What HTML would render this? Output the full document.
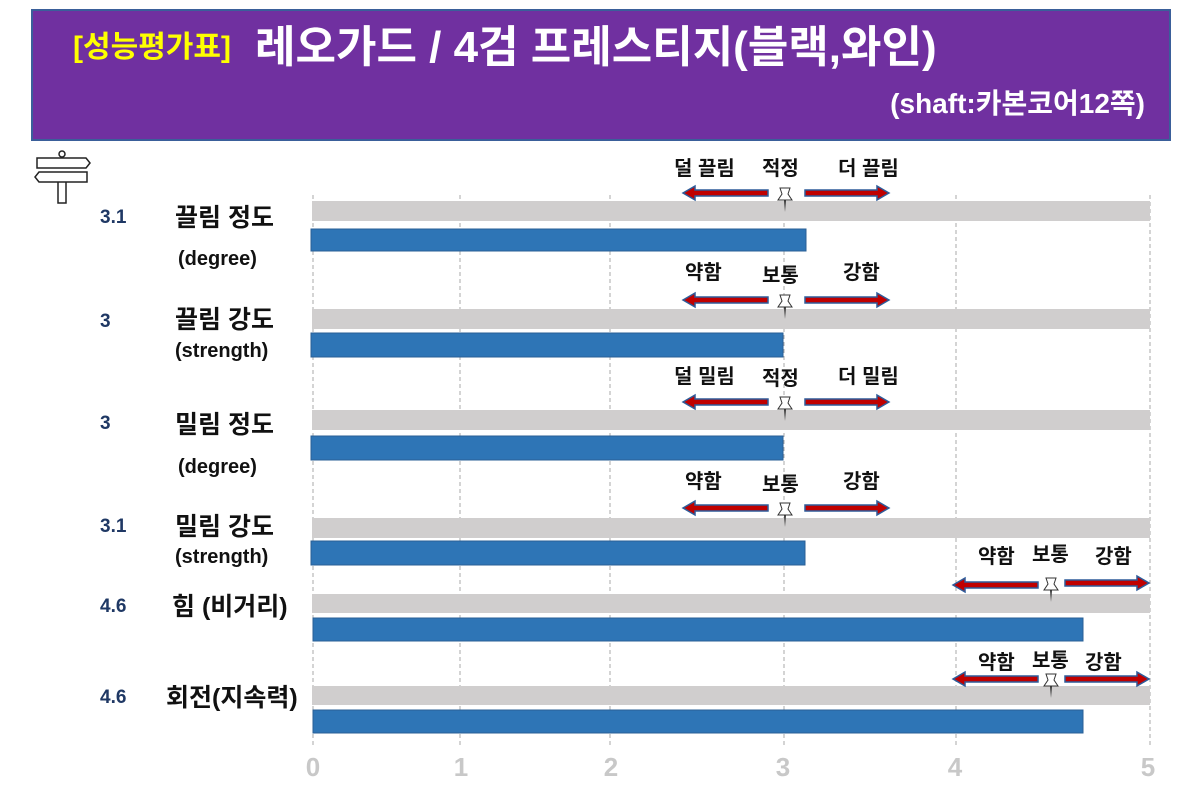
<!DOCTYPE html>
<html><head><meta charset="utf-8"><style>
body{margin:0;background:#fff;}
svg{display:block;font-family:"Liberation Sans","Noto Sans CJK KR",sans-serif;}
</style></head><body>
<svg width="1200" height="803" viewBox="0 0 1200 803">
<defs>
<g id="la"><polygon points="0,0 12,-7 12,-3 85,-3 85,3 12,3 12,7" fill="#c00000" stroke="#2e5c9a" stroke-width="1.5"/></g>
<g id="ra"><polygon points="0,-3 72,-3 72,-7 84,0 72,7 72,3 0,3" fill="#c00000" stroke="#2e5c9a" stroke-width="1.5"/></g>
<g id="pin"><path d="M-5,-8 L5,-8 L3,-2 L7,4 L-7,4 L-3,-2 Z" fill="#fff" stroke="#333" stroke-width="1"/><path d="M-1,4 L1,4 L0,16 Z" fill="#333"/></g>
</defs>
<rect x="32" y="10" width="1138" height="130" fill="#7030a0" stroke="#3a5f9a" stroke-width="2"/>
<text x="73" y="57" font-size="30" font-weight="bold" fill="#ffff00">[성능평가표]</text>
<text x="255" y="62" font-size="44" font-weight="bold" fill="#fff">레오가드 / 4검 프레스티지(블랙,와인)</text>
<text x="1145" y="113" font-size="28" font-weight="bold" fill="#fff" text-anchor="end">(shaft:카본코어12쪽)</text>
<g stroke="#222" stroke-width="1.5" fill="#fff">
<rect x="58" y="181" width="8" height="22"/>
<circle cx="62" cy="154" r="3"/>
<polygon points="37,158 86,158 90,163 86,168 37,168"/>
<polygon points="39,172 87,172 87,182 39,182 35,177"/>
</g>
<g stroke="#aaa" stroke-width="1" stroke-dasharray="4,3">
<line x1="313" y1="195" x2="313" y2="745"/><line x1="460" y1="195" x2="460" y2="745"/>
<line x1="610" y1="195" x2="610" y2="745"/><line x1="784" y1="195" x2="784" y2="745"/>
<line x1="956" y1="195" x2="956" y2="745"/><line x1="1150" y1="195" x2="1150" y2="745"/>
</g>
<g font-size="26" font-weight="bold" fill="#c8c8c8" text-anchor="middle">
<text x="313" y="776">0</text><text x="461" y="776">1</text><text x="611" y="776">2</text>
<text x="783" y="776">3</text><text x="955" y="776">4</text><text x="1148" y="776">5</text>
</g>
<g fill="#d0cece">
<rect x="312" y="201" width="838" height="20"/><rect x="312" y="309" width="838" height="20"/>
<rect x="312" y="410" width="838" height="20"/><rect x="312" y="518" width="838" height="20"/>
<rect x="312" y="594" width="838" height="19"/><rect x="312" y="686" width="838" height="19"/>
</g>
<g fill="#2e75b6" stroke="#2a5f95" stroke-width="1">
<rect x="311" y="229" width="495" height="22"/><rect x="311" y="333" width="472" height="24"/>
<rect x="311" y="436" width="472" height="24"/><rect x="311" y="541" width="494" height="24"/>
<rect x="313" y="618" width="770" height="23"/><rect x="313" y="710" width="770" height="23"/>
</g>
<g font-size="19" font-weight="bold" fill="#1f3864">
<text x="100" y="223">3.1</text><text x="100" y="327">3</text><text x="100" y="429">3</text>
<text x="100" y="532">3.1</text><text x="100" y="612">4.6</text><text x="100" y="703">4.6</text>
</g>
<g font-size="25" font-weight="bold" fill="#111">
<text x="175" y="226">끌림 정도</text><text x="175" y="328">끌림 강도</text><text x="175" y="433">밀림 정도</text>
<text x="175" y="535">밀림 강도</text><text x="172" y="615">힘 (비거리)</text><text x="166" y="706">회전(지속력)</text>
</g>
<g font-size="20" font-weight="bold" fill="#111">
<text x="178" y="265">(degree)</text><text x="175" y="357">(strength)</text>
<text x="178" y="473">(degree)</text><text x="175" y="563">(strength)</text>
</g>
<g font-size="20" font-weight="bold" fill="#111">
<use href="#la" x="683" y="193"/><use href="#ra" x="805" y="193"/><use href="#pin" x="785" y="196"/>
<text x="674" y="175">덜 끌림</text><text x="762" y="175">적정</text><text x="838" y="175">더 끌림</text>
<use href="#la" x="683" y="300"/><use href="#ra" x="805" y="300"/><use href="#pin" x="785" y="303"/>
<text x="685" y="279">약함</text><text x="762" y="282">보통</text><text x="843" y="279">강함</text>
<use href="#la" x="683" y="402"/><use href="#ra" x="805" y="402"/><use href="#pin" x="785" y="405"/>
<text x="674" y="383">덜 밀림</text><text x="762" y="385">적정</text><text x="838" y="383">더 밀림</text>
<use href="#la" x="683" y="508"/><use href="#ra" x="805" y="508"/><use href="#pin" x="785" y="511"/>
<text x="685" y="488">약함</text><text x="762" y="491">보통</text><text x="843" y="488">강함</text>
<use href="#la" x="953" y="585"/><use href="#ra" x="1065" y="583"/><use href="#pin" x="1051" y="586"/>
<text x="978" y="563">약함</text><text x="1032" y="561">보통</text><text x="1095" y="563">강함</text>
<use href="#la" x="953" y="679"/><use href="#ra" x="1065" y="679"/><use href="#pin" x="1051" y="682"/>
<text x="978" y="669">약함</text><text x="1032" y="667">보통</text><text x="1085" y="669">강함</text>
</g>
</svg>
</body></html>
